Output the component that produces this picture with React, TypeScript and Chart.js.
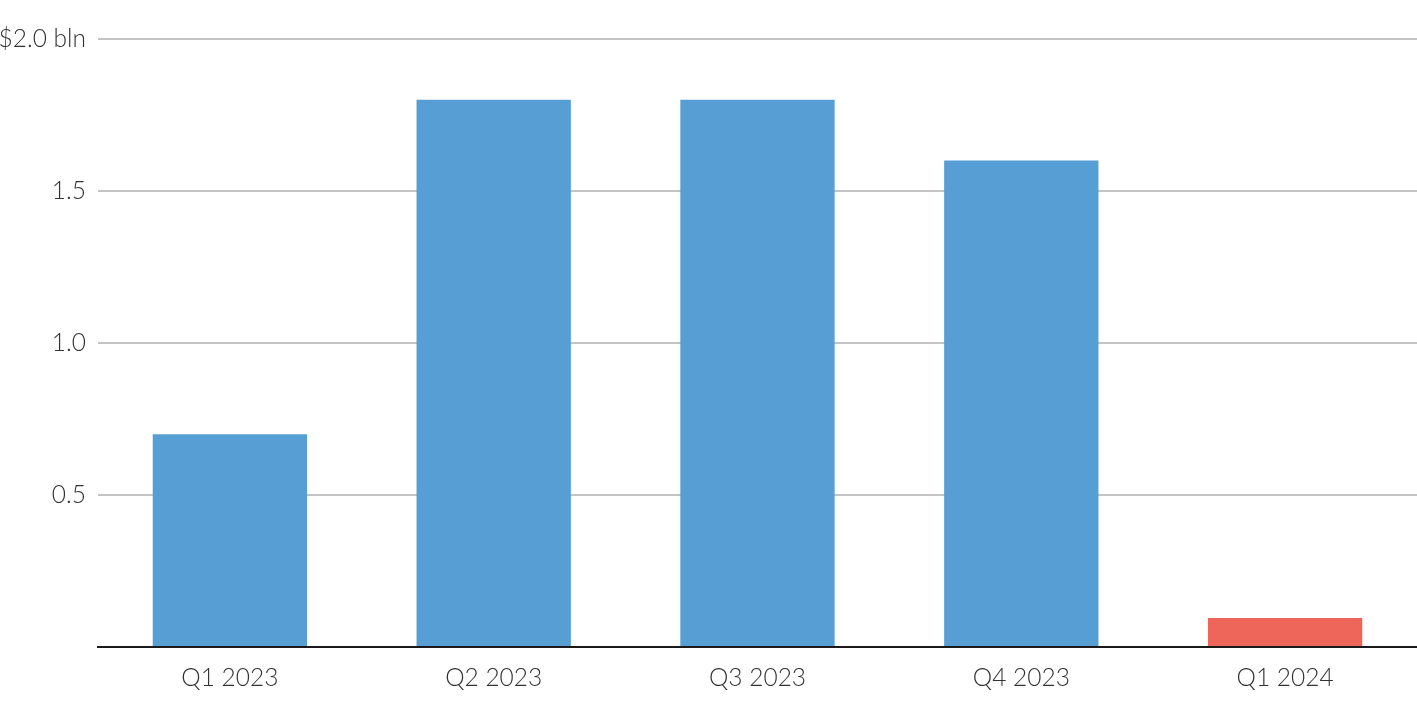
import React, { useEffect, useRef } from "react";
import { Chart, registerables } from "chart.js";

Chart.register(...registerables);

const categories = ["Q1 2023", "Q2 2023", "Q3 2023", "Q4 2023", "Q1 2024"];
const values = [0.7, 1.8, 1.8, 1.6, 0.095];
const barColors = ["#579ED5", "#579ED5", "#579ED5", "#579ED5", "#EE655A"];
const yTicks = [0, 0.5, 1.0, 1.5, 2.0];

export default function App() {
  const ref = useRef<HTMLCanvasElement | null>(null);
  useEffect(() => {
    document.body.style.margin = "0";
    const ctx = ref.current!;
    const font = { family: "Lato", size: 24.5, weight: 300 as any };
    const chart = new Chart(ctx, {
      type: "bar",
      data: {
        labels: categories,
        datasets: [
          {
            data: values,
            backgroundColor: barColors,
            borderWidth: 0,
            categoryPercentage: 1,
            barPercentage: 0.585,
          },
        ],
      },
      options: {
        animation: false,
        responsive: true,
        maintainAspectRatio: false,
        layout: { padding: { top: 39, right: 0, bottom: 7, left: 0 } },
        plugins: { legend: { display: false }, tooltip: { enabled: false } },
        scales: {
          x: {
            grid: { display: false },
            border: { display: true, color: "#1a1a1a", width: 2 },
            ticks: { color: "#333", font, padding: 8 },
            afterFit: (axis: any) => {
              axis.height = 57;
            },
          },
          y: {
            min: 0,
            max: 2,
            afterBuildTicks: (axis: any) => {
              axis.ticks = yTicks.map((v) => ({ value: v }));
            },
            afterFit: (axis: any) => {
              axis.width = 98;
            },
            grid: {
              color: (c: any) => (c.tick && c.tick.value === 0 ? "rgba(0,0,0,0)" : "#c4c4c4"),
              lineWidth: 2,
              drawTicks: false,
            },
            border: { display: false },
            ticks: {
              color: "#333",
              font,
              padding: 12,
              callback: (v: any) => {
                const n = Number(v);
                if (n === 0) return "";
                if (n === 2) return "$2.0 bln";
                return n.toFixed(1);
              },
            },
          },
        },
      },
    });
    return () => chart.destroy();
  }, []);
  return (
    <div style={{ position: "fixed", left: 0, top: 0, width: 1417, height: 711 }}>
      <canvas ref={ref} />
    </div>
  );
}
